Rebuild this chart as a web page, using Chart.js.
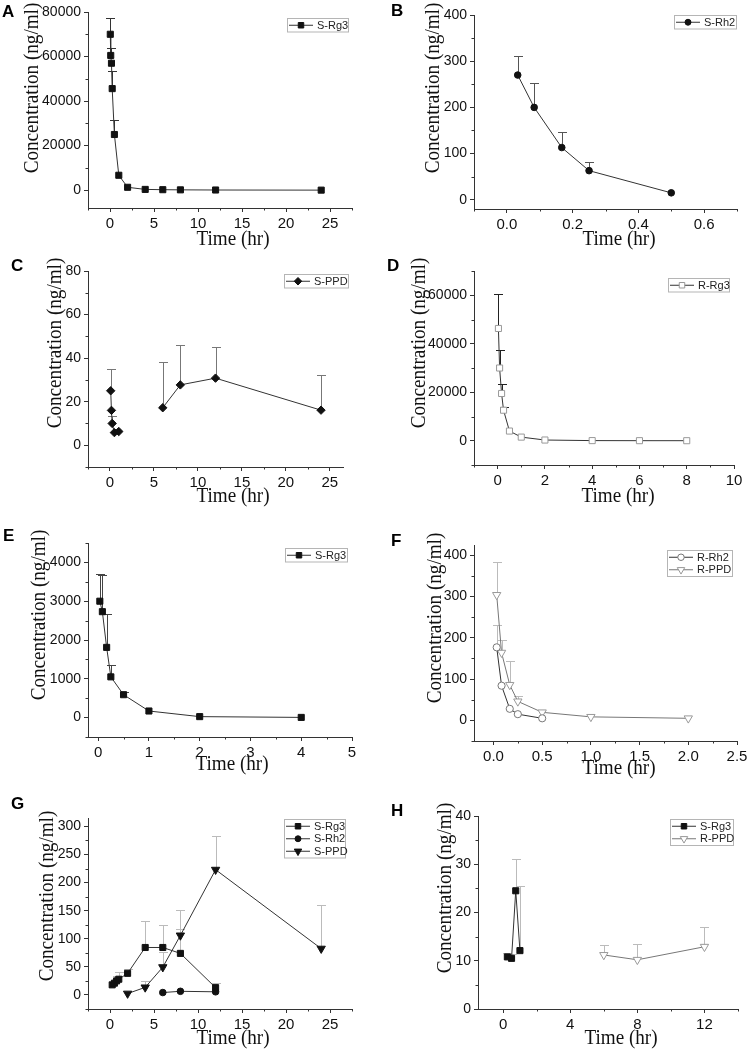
<!DOCTYPE html>
<html>
<head>
<meta charset="utf-8">
<script src="https://cdn.jsdelivr.net/npm/chart.js@4.4.1/dist/chart.umd.min.js"></script>
<style>
  html, body { margin: 0; padding: 0; background: #fff; }
  #page { position: relative; width: 750px; height: 1053px; overflow: hidden; }
  #page canvas { position: absolute; left: 0; top: 0; }
</style>
</head>
<body>
<div id="page">
  <canvas id="pA" width="750" height="1053"></canvas>
  <canvas id="pB" width="750" height="1053"></canvas>
  <canvas id="pC" width="750" height="1053"></canvas>
  <canvas id="pD" width="750" height="1053"></canvas>
  <canvas id="pE" width="750" height="1053"></canvas>
  <canvas id="pF" width="750" height="1053"></canvas>
  <canvas id="pG" width="750" height="1053"></canvas>
  <canvas id="pH" width="750" height="1053"></canvas>
</div>
<script>
// ---- data (time in hr, concentration in ng/ml, err = top of error bar) ----
const timeA = [0.033, 0.083, 0.167, 0.25, 0.5, 1, 2, 4, 6, 8, 12, 24];
const sRg3A = [70000, 60500, 57000, 45600, 25000, 6700, 1300, 350, 220, 150, 80, 20];
const sRg3AErr = [77200, 63700, null, 53500, 31500, null, null, null, null, null, null, null];

const timeB = [0.033, 0.083, 0.167, 0.25, 0.5];
const sRh2B = [270, 200, 113, 63, 15];
const sRh2BErr = [311, 252, 146, 82, null];

const timeC = [0.083, 0.167, 0.25, 0.5, 1, 2, 4, 6, 8, 12, 24];
const sPpdC = [25, 16, 10, 5.8, 6.3, null, null, 17.2, 27.7, 30.8, 16.1];
const sPpdCErr = [35.2, null, 13.2, null, null, null, null, 38.3, 45.9, 45, 32.1];

const timeD = [0.033, 0.083, 0.167, 0.25, 0.5, 1, 2, 4, 6, 8];
const rRg3D = [46300, 30000, 19500, 12600, 4000, 1500, 300, 60, 30, 20];
const rRg3DErr = [60500, 37600, 23200, 13800, null, null, null, null, null, null];

const timeE = [0.033, 0.083, 0.167, 0.25, 0.5, 1, 2, 4];
const sRg3E = [3000, 2730, 1810, 1050, 590, 170, 25, 5];
const sRg3EErr = [3690, 3680, 2660, 1360, 660, null, null, null];

const timeF1 = [0.033, 0.083, 0.167, 0.25, 0.5];
const rRh2F = [177, 84, 28, 15, 5];
const rRh2FErr = [230, null, null, null, null];
const timeF2 = [0.033, 0.083, 0.167, 0.25, 0.5, 1, 2];
const rPpdF = [304, 164, 86, 46, 19.5, 8.5, 5];
const rPpdFErr = [384, 194, 145, 60, null, null, null];

const timeG1 = [0.25, 0.5, 0.75, 1, 2, 4, 6, 8, 12];
const sRg3G = [18, 21, 25, 28, 38.5, 84.5, 84.5, 74, 13];
const sRg3GErr = [null, null, 33, 40, 46, 131, 124, 118, 22];
const timeG2 = [6, 8, 12];
const sRh2G = [4.3, 6.5, 5.6];
const timeG3 = [2, 4, 6, 8, 12, 24];
const sPpdG = [2.5, 13.5, 49.5, 106, 223, 82.5];
const sPpdGErr = [null, 25, 76, 151, 283, 160];

const timeH1 = [0.25, 0.5, 0.75, 1];
const sRg3H = [10.8, 10.5, 24.5, 12.1];
const sRg3HErr = [11.6, 11.5, 31.1, 25.4];
const timeH2 = [6, 8, 12];
const rPpdH = [11.2, 10.2, 12.9];
const rPpdHErr = [13.2, 13.4, 16.9];

// tick labels
const xTicks25 = ['0', '5', '10', '15', '20', '25'];
const xTicksB = ['0.0', '0.2', '0.4', '0.6'];
const xTicksD = ['0', '2', '4', '6', '8', '10'];
const xTicksE = ['0', '1', '2', '3', '4', '5'];
const xTicksF = ['0.0', '0.5', '1.0', '1.5', '2.0', '2.5'];
const xTicksH = ['0', '4', '8', '12'];
const yTicksA = ['0', '20000', '40000', '60000', '80000'];
const yTicksB = ['0', '100', '200', '300', '400'];
const yTicksC = ['0', '20', '40', '60', '80'];
const yTicksD = ['0', '20000', '40000', '60000'];
const yTicksE = ['0', '1000', '2000', '3000', '4000'];
const yTicksF = ['0', '100', '200', '300', '400'];
const yTicksG = ['0', '50', '100', '150', '200', '250', '300'];
const yTicksH = ['0', '10', '20', '30', '40'];

// ---- styles ----
const SANS = '"Liberation Sans", Arial, sans-serif';
const SERIF = '"Liberation Serif", "Times New Roman", serif';
const sqBlack = { point: 'rect', radius: 4.3, fill: '#111', stroke: '#111', line: '#333' };
const circBlack = { point: 'circle', radius: 3.3, fill: '#111', stroke: '#111', line: '#333' };
const diaBlack = { point: 'rectRot', radius: 4.2, fill: '#111', stroke: '#111', line: '#333' };
const triBlack = { point: 'triangle', radius: 4.8, rotation: 180, fill: '#111', stroke: '#111', line: '#333' };
const sqOpen = { point: 'rect', radius: 4.3, fill: '#fff', stroke: '#999', line: '#333' };
const circOpen = { point: 'circle', radius: 3.6, fill: '#fff', stroke: '#777', line: '#333' };
const triOpen = { point: 'triangle', radius: 4.8, rotation: 180, fill: '#fff', stroke: '#999', line: '#777' };

function drawMarker(ctx, st, x, y) {
  const r = st.radius;
  ctx.beginPath();
  if (st.point === 'circle') {
    ctx.arc(x, y, r, 0, Math.PI * 2);
  } else if (st.point === 'rect') {
    const h = r * Math.SQRT1_2;
    ctx.rect(x - h, y - h, 2 * h, 2 * h);
  } else if (st.point === 'rectRot') {
    ctx.moveTo(x, y - r); ctx.lineTo(x + r, y); ctx.lineTo(x, y + r); ctx.lineTo(x - r, y); ctx.closePath();
  } else {
    const s = r * Math.sin(Math.PI / 3);
    ctx.moveTo(x, y + r); ctx.lineTo(x - s, y - r / 2); ctx.lineTo(x + s, y - r / 2); ctx.closePath();
  }
  ctx.fillStyle = st.fill; ctx.fill();
  ctx.strokeStyle = st.stroke; ctx.lineWidth = 1; ctx.stroke();
}

function minorValues(vals, min, max) {
  const step = vals[1] - vals[0];
  let v = vals[0] - step / 2;
  while (v - step >= min - 1e-9) v -= step;
  const out = [];
  for (; v <= max + 1e-9; v += step) if (v >= min - 1e-9) out.push(v);
  return out;
}

function line(ctx, x1, y1, x2, y2) {
  ctx.beginPath(); ctx.moveTo(x1, y1); ctx.lineTo(x2, y2); ctx.stroke();
}

function originPlugin(cfg) {
  return {
    id: 'origin' + cfg.letter,
    beforeDatasetsDraw(chart) {
      const ctx = chart.ctx, ys = chart.scales.y;
      cfg.series.forEach((s, di) => {
        if (!s.err) return;
        const meta = chart.getDatasetMeta(di);
        ctx.save();
        ctx.strokeStyle = s.errColor;
        ctx.lineWidth = 1;
        s.err.forEach((top, i) => {
          if (top == null || s.y[i] == null) return;
          const pt = meta.data[i];
          const x = Math.round(pt.x) + 0.5;
          const y1 = Math.round(ys.getPixelForValue(top)) + 0.5;
          line(ctx, x, pt.y, x, y1);
          line(ctx, x - 4.5, y1, x + 4.5, y1);
        });
        ctx.restore();
      });
    },
    afterDraw(chart) {
      const ctx = chart.ctx, xs = chart.scales.x, ys = chart.scales.y, a = chart.chartArea;
      ctx.save();
      // minor ticks
      ctx.strokeStyle = '#333';
      ctx.lineWidth = 1;
      minorValues(cfg.xLabels.map(Number), cfg.x[0], cfg.x[1]).forEach(v => {
        const px = Math.round(xs.getPixelForValue(v)) + 0.5;
        line(ctx, px, a.bottom, px, a.bottom + 2.5);
      });
      minorValues(cfg.yLabels.map(Number), cfg.y[0], cfg.y[1]).forEach(v => {
        const py = Math.round(ys.getPixelForValue(v)) + 0.5;
        line(ctx, a.left - 2.5, py, a.left, py);
      });

      // legend
      const lg = cfg.legend, rowH = 12.5;
      const h = cfg.series.length * rowH + 1;
      ctx.fillStyle = '#fff';
      ctx.fillRect(lg.x, lg.y, lg.w, h);
      ctx.strokeStyle = '#b5b5b5';
      ctx.strokeRect(lg.x + 0.5, lg.y + 0.5, lg.w, h);
      ctx.font = '11px ' + SANS;
      ctx.textBaseline = 'middle';
      ctx.textAlign = 'left';
      cfg.series.forEach((s, i) => {
        const cy = lg.y + 1 + rowH * (i + 0.5);
        ctx.strokeStyle = s.style.line;
        line(ctx, lg.x + 2, cy, lg.x + 26, cy);
        drawMarker(ctx, Object.assign({}, s.style, { radius: s.style.radius * 0.9 }), lg.x + 14, cy);
        ctx.fillStyle = '#222';
        ctx.fillText(s.label, lg.x + 30, cy + 0.5);
      });

      // axis titles (condensed serif)
      ctx.fillStyle = '#111';
      ctx.font = '22px ' + SERIF;
      ctx.textAlign = 'center';
      ctx.save();
      ctx.translate(cfg.yTitle[0], cfg.yTitle[1]);
      ctx.rotate(-Math.PI / 2);
      ctx.scale(0.87, 1);
      ctx.textBaseline = 'middle';
      ctx.fillText('Concentration (ng/ml)', 0, 0);
      ctx.restore();
      ctx.save();
      ctx.translate(cfg.xTitle[0], cfg.xTitle[1]);
      ctx.scale(0.87, 1);
      ctx.textBaseline = 'alphabetic';
      ctx.fillText('Time (hr)', 0, 0);
      ctx.restore();

      // panel letter
      ctx.font = 'bold 17px ' + SANS;
      ctx.textAlign = 'left';
      ctx.textBaseline = 'alphabetic';
      ctx.fillStyle = '#000';
      ctx.fillText(cfg.letter, cfg.letterPos[0], cfg.letterPos[1]);
      ctx.restore();
    }
  };
}

function makePanel(cfg) {
  const [L, T, R, B] = cfg.area;
  const YW = 60, XH = 30;
  const axis = (labels, isX) => ({
    type: 'linear',
    min: (isX ? cfg.x : cfg.y)[0],
    max: (isX ? cfg.x : cfg.y)[1],
    afterBuildTicks: s => { s.ticks = labels.map(v => ({ value: Number(v) })); },
    afterFit: s => {
      if (isX) s.height = XH; else s.width = YW;
      s.paddingTop = 0; s.paddingBottom = 0; s.paddingLeft = 0; s.paddingRight = 0;
    },
    ticks: {
      callback: (v, i) => labels[i],
      autoSkip: false, maxRotation: 0, padding: 3,
      color: '#111', font: { family: SANS, size: isX ? 15 : 14 }
    },
    grid: { drawOnChartArea: false, drawTicks: true, tickLength: 4, color: '#333' },
    border: { display: true, color: '#333', width: 1 }
  });

  new Chart(document.getElementById(cfg.id), {
    type: 'line',
    data: {
      datasets: cfg.series.map(s => ({
        label: s.label,
        data: s.x.map((t, i) => ({ x: t, y: s.y[i] })),
        borderColor: s.style.line,
        borderWidth: 1,
        pointStyle: s.style.point,
        pointRadius: s.style.radius,
        pointRotation: s.style.rotation || 0,
        pointBackgroundColor: s.style.fill,
        pointBorderColor: s.style.stroke,
        pointBorderWidth: 1,
        tension: 0,
        spanGaps: false,
        clip: false
      }))
    },
    options: {
      responsive: false,
      animation: false,
      devicePixelRatio: 1,
      events: [],
      layout: { padding: { left: L - YW, top: T, right: 750 - R, bottom: 1053 - B - XH } },
      plugins: { legend: { display: false }, tooltip: { enabled: false } },
      scales: { x: axis(cfg.xLabels, true), y: axis(cfg.yLabels, false) }
    },
    plugins: [originPlugin(cfg)]
  });
}

makePanel({
  id: 'pA', letter: 'A', letterPos: [2, 17],
  area: [88, 12, 352, 208], x: [-2.5, 27.5], y: [-8000, 80000],
  xLabels: xTicks25, yLabels: yTicksA,
  yTitle: [32, 88], xTitle: [233, 245], legend: { x: 287, y: 18, w: 61 },
  series: [{ label: 'S-Rg3', x: timeA, y: sRg3A, err: sRg3AErr, errColor: '#333', style: sqBlack }]
});

makePanel({
  id: 'pB', letter: 'B', letterPos: [391, 16],
  area: [474, 15, 737, 209], x: [-0.1, 0.7], y: [-20, 400],
  xLabels: xTicksB, yLabels: yTicksB,
  yTitle: [433, 88], xTitle: [619, 245], legend: { x: 674, y: 15, w: 62 },
  series: [{ label: 'S-Rh2', x: timeB, y: sRh2B, err: sRh2BErr, errColor: '#555', style: circBlack }]
});

makePanel({
  id: 'pC', letter: 'C', letterPos: [11, 271],
  area: [88, 271, 343, 467], x: [-2.5, 26.5], y: [-10, 80],
  xLabels: xTicks25, yLabels: yTicksC,
  yTitle: [55, 343], xTitle: [233, 502], legend: { x: 284, y: 274, w: 64 },
  series: [{ label: 'S-PPD', x: timeC, y: sPpdC, err: sPpdCErr, errColor: '#777', style: diaBlack }]
});

makePanel({
  id: 'pD', letter: 'D', letterPos: [387, 271],
  area: [474, 271, 734, 465], x: [-1, 10], y: [-10000, 70000],
  xLabels: xTicksD, yLabels: yTicksD,
  yTitle: [419, 343], xTitle: [618, 502], legend: { x: 668, y: 278, w: 61 },
  series: [{ label: 'R-Rg3', x: timeD, y: rRg3D, err: rRg3DErr, errColor: '#222', style: sqOpen }]
});

makePanel({
  id: 'pE', letter: 'E', letterPos: [3, 541],
  area: [88, 543, 352, 737], x: [-0.2, 5], y: [-500, 4500],
  xLabels: xTicksE, yLabels: yTicksE,
  yTitle: [39, 615], xTitle: [232, 770], legend: { x: 285, y: 548, w: 62 },
  series: [{ label: 'S-Rg3', x: timeE, y: sRg3E, err: sRg3EErr, errColor: '#444', style: sqBlack }]
});

makePanel({
  id: 'pF', letter: 'F', letterPos: [391, 546],
  area: [474, 545, 737, 741], x: [-0.2, 2.5], y: [-50, 425],
  xLabels: xTicksF, yLabels: yTicksF,
  yTitle: [435, 618], xTitle: [619, 774], legend: { x: 667, y: 550, w: 65 },
  series: [
    { label: 'R-Rh2', x: timeF1, y: rRh2F, err: rRh2FErr, errColor: '#bbb', style: circOpen },
    { label: 'R-PPD', x: timeF2, y: rPpdF, err: rPpdFErr, errColor: '#bbb', style: triOpen }
  ]
});

makePanel({
  id: 'pG', letter: 'G', letterPos: [11, 809],
  area: [88, 818, 352, 1009], x: [-2.5, 27.5], y: [-25, 315],
  xLabels: xTicks25, yLabels: yTicksG,
  yTitle: [47, 896], xTitle: [233, 1044], legend: { x: 284, y: 819, w: 61 },
  series: [
    { label: 'S-Rg3', x: timeG1, y: sRg3G, err: sRg3GErr, errColor: '#bbb', style: sqBlack },
    { label: 'S-Rh2', x: timeG2, y: sRh2G, err: null, errColor: '#bbb', style: circBlack },
    { label: 'S-PPD', x: timeG3, y: sPpdG, err: sPpdGErr, errColor: '#bbb', style: triBlack }
  ]
});

makePanel({
  id: 'pH', letter: 'H', letterPos: [391, 816],
  area: [478, 816, 738, 1009], x: [-1.5, 14], y: [0, 40],
  xLabels: xTicksH, yLabels: yTicksH,
  yTitle: [445, 888], xTitle: [621, 1044], legend: { x: 670, y: 819, w: 63 },
  series: [
    { label: 'S-Rg3', x: timeH1, y: sRg3H, err: sRg3HErr, errColor: '#bbb', style: sqBlack },
    { label: 'R-PPD', x: timeH2, y: rPpdH, err: rPpdHErr, errColor: '#bbb', style: triOpen }
  ]
});
</script>
</body>
</html>
